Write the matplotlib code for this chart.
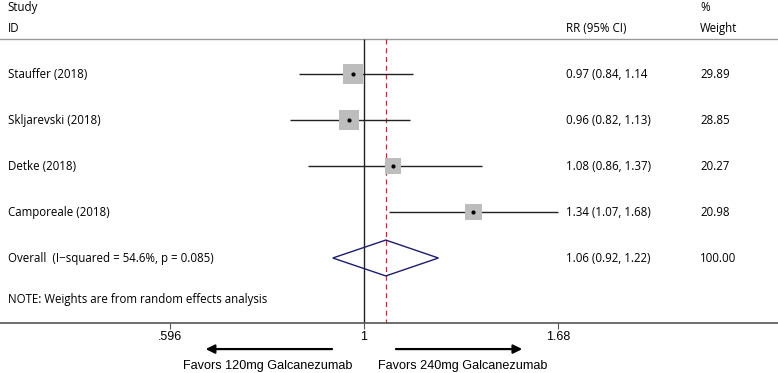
import numpy as np
import matplotlib.pyplot as plt
from matplotlib.patches import Polygon

# study data
studies = ['Stauffer (2018)', 'Skljarevski (2018)', 'Detke (2018)', 'Camporeale (2018)']
rr = [0.97, 0.96, 1.08, 1.34]
ci_low = [0.84, 0.82, 0.86, 1.07]
ci_high = [1.14, 1.13, 1.37, 1.68]
weights = [29.89, 28.85, 20.27, 20.98]
rr_text = ['0.97 (0.84, 1.14', '0.96 (0.82, 1.13)', '1.08 (0.86, 1.37)', '1.34 (1.07, 1.68)']
weight_text = ['29.89', '28.85', '20.27', '20.98']

overall_label = 'Overall  (I\u2212squared = 54.6%, p = 0.085)'
overall_rr = 1.06
overall_low = 0.92
overall_high = 1.22
overall_text = '1.06 (0.92, 1.22)'
overall_weight = '100.00'
note = 'NOTE: Weights are from random effects analysis'

xticks = [0.596, 1, 1.68]
xtick_labels = ['.596', '1', '1.68']

plt.rcParams['font.family'] = ['Open Sans', 'DejaVu Sans']
fs = 8.3

fig = plt.figure(figsize=(7.78, 3.73), dpi=100)
ax = fig.add_axes([0, 0, 1, 1])
ax.set_xscale('log')
# x=1 at 364 px, ~374 px per log unit
ax.set_xlim(np.exp(-364 / 374), np.exp((778 - 364) / 374))
ax.set_ylim(7.5, -0.609)

axis_row = 6.41
sep_row = 0.24
lab = ax.get_yaxis_transform()  # x in axes fraction, y in rows

# header
ax.text(0.010, -0.45, 'Study', transform=lab, fontsize=fs, va='center')
ax.text(0.010, 0.0, 'ID', transform=lab, fontsize=fs, va='center')
ax.text(0.728, 0.0, 'RR (95% CI)', transform=lab, fontsize=fs, va='center')
ax.text(0.900, -0.45, '%', transform=lab, fontsize=fs, va='center')
ax.text(0.900, 0.0, 'Weight', transform=lab, fontsize=fs, va='center')
ax.axhline(sep_row, color='#999999', lw=1)

# reference lines
ax.vlines(1, sep_row, axis_row, color='#222222', lw=1)
ax.vlines(overall_rr, sep_row, axis_row, color='#a33a3a', lw=0.9, linestyles=(0, (4, 3)))

rows = np.arange(1, len(studies) + 1)
for i, r in enumerate(rows):
    ax.text(0.010, r, studies[i], transform=lab, fontsize=fs, va='center')
    ax.text(0.728, r, rr_text[i], transform=lab, fontsize=fs, va='center')
    ax.text(0.900, r, weight_text[i], transform=lab, fontsize=fs, va='center')
    ax.hlines(r, ci_low[i], ci_high[i], color='#222222', lw=1, zorder=2)

sizes = (14.4 ** 2) * np.array(weights) / max(weights)
ax.scatter(rr, rows, s=sizes, marker='s', color='#bdbdbd', linewidths=0, zorder=3)
ax.scatter(rr, rows, s=4, marker='o', color='black', zorder=4)

# overall diamond
orow = len(studies) + 1
h = 0.39
diamond = Polygon([(overall_low, orow), (overall_rr, orow - h), (overall_high, orow),
                   (overall_rr, orow + h)], closed=True, fill=False,
                  edgecolor='#1c1c6b', lw=1, zorder=3)
ax.add_patch(diamond)
ax.text(0.010, orow, overall_label, transform=lab, fontsize=fs, va='center')
ax.text(0.728, orow, overall_text, transform=lab, fontsize=fs, va='center')
ax.text(0.900, orow, overall_weight, transform=lab, fontsize=fs, va='center')
ax.text(0.010, orow + 0.9, note, transform=lab, fontsize=fs, va='center')

# x axis
for s in ['top', 'right', 'left']:
    ax.spines[s].set_visible(False)
ax.spines['bottom'].set_position(('data', axis_row))
ax.spines['bottom'].set_color('#555555')
ax.spines['bottom'].set_linewidth(1.2)
ax.set_xticks(xticks)
ax.set_xticklabels(xtick_labels, fontfamily='Liberation Sans', fontsize=9)
ax.minorticks_off()
ax.tick_params(axis='x', direction='out', length=4, width=0.8, color='#555555', pad=2)
ax.set_yticks([])

# favors arrows
arrow_row = 6.98
ax.annotate('', xy=(0.650, arrow_row), xytext=(0.925, arrow_row),
            arrowprops=dict(arrowstyle='-|>', color='black', lw=1.6, mutation_scale=13))
ax.annotate('', xy=(1.538, arrow_row), xytext=(1.081, arrow_row),
            arrowprops=dict(arrowstyle='-|>', color='black', lw=1.6, mutation_scale=13))
ax.text(0.774, 7.35, 'Favors 120mg Galcanezumab', fontfamily='Liberation Sans',
        fontsize=9.1, ha='center', va='center')
ax.text(1.303, 7.35, 'Favors 240mg Galcanezumab', fontfamily='Liberation Sans',
        fontsize=9.1, ha='center', va='center')

fig.savefig('out.png', dpi=100)
